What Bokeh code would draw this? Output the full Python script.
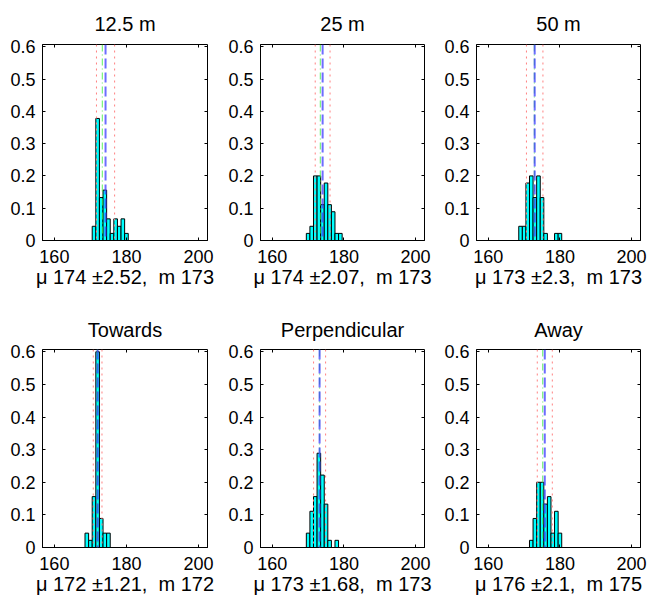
from bokeh.plotting import figure
from bokeh.models import Range1d, FixedTicker, LinearAxis, Span
from bokeh.layouts import gridplot
from bokeh.embed import file_html
from bokeh.resources import INLINE

FONT = "Liberation Sans"

titles = ["12.5 m", "25 m", "50 m", "Towards", "Perpendicular", "Away"]
xlabels = [
    "\u03bc 174 \u00b12.52,\u00a0 m 173",
    "\u03bc 174 \u00b12.07,\u00a0 m 173",
    "\u03bc 173 \u00b12.3,\u00a0 m 173",
    "\u03bc 172 \u00b11.21,\u00a0 m 172",
    "\u03bc 173 \u00b11.68,\u00a0 m 173",
    "\u03bc 176 \u00b12.1,\u00a0 m 175",
]

bins_125 = [171, 172, 173, 174, 175, 176, 177, 178, 179, 180]
prob_125 = [0.044, 0.378, 0.133, 0.156, 0.067, 0.022, 0.067, 0.044, 0.067, 0.022]
bins_25 = [170, 171, 172, 173, 174, 175, 176, 177, 178, 179]
prob_25 = [0.022, 0.044, 0.2, 0.2, 0.111, 0.178, 0.111, 0.089, 0.022, 0.022]
bins_50 = [169, 170, 171, 172, 173, 174, 175, 176, 179, 180]
prob_50 = [0.044, 0.044, 0.178, 0.2, 0.133, 0.2, 0.133, 0.022, 0.022, 0.022]
bins_tow = [169, 170, 171, 172, 173, 174, 175]
prob_tow = [0.044, 0.022, 0.156, 0.6, 0.089, 0.044, 0.044]
bins_perp = [170, 171, 172, 173, 174, 175, 176, 178]
prob_perp = [0.044, 0.111, 0.156, 0.289, 0.222, 0.133, 0.022, 0.022]
bins_away = [172, 173, 174, 175, 176, 177, 178, 179, 180]
prob_away = [0.022, 0.089, 0.2, 0.2, 0.133, 0.156, 0.044, 0.111, 0.044]

means = [174.2, 174.05, 172.95, 172.0, 173.2, 175.77]
stds = [2.52, 2.07, 2.3, 1.21, 1.68, 2.1]
medians = [173.3, 173.4, 172.85, 171.9, 173.2, 175.2]

x_ticks = [160, 180, 200]
y_ticks = [0, 0.1, 0.2, 0.3, 0.4, 0.5, 0.6]
y_tick_labels = ["0", "0.1", "0.2", "0.3", "0.4", "0.5", "0.6"]

all_bins = [bins_125, bins_25, bins_50, bins_tow, bins_perp, bins_away]
all_probs = [prob_125, prob_25, prob_50, prob_tow, prob_perp, prob_away]

col_geom = [(42, 165, 12), (41, 164, 11), (41, 164, 9)]
row_geom = [(43, 197, 58), (51, 198, 51)]
title_standoff = [20, 17]


def make(i):
    r, c = divmod(i, 3)
    lb, fw, rb = col_geom[c]
    tb, fh, bb = row_geom[r]
    p = figure(width=lb + fw + rb, height=tb + fh + bb,
               x_range=Range1d(156.7, 202.5), y_range=Range1d(0, 0.607),
               output_backend="svg", toolbar_location=None,
               min_border_left=lb, min_border_right=rb,
               min_border_top=tb, min_border_bottom=bb,
               title=titles[i])
    p.background_fill_color = "white"
    p.border_fill_color = "white"
    p.outline_line_color = "black"
    p.outline_line_width = 1
    p.xgrid.visible = False
    p.ygrid.visible = False

    p.title.text_font = FONT
    p.title.text_font_size = "20px"
    p.title.text_font_style = "normal"
    p.title.text_color = "black"
    p.title.align = "center"
    p.title.standoff = title_standoff[r]

    xa = p.xaxis[0]
    xa.ticker = FixedTicker(ticks=x_ticks)
    xa.major_tick_in = 3
    xa.major_tick_out = 0
    xa.minor_tick_line_color = None
    xa.axis_line_color = "black"
    xa.major_label_text_font = FONT
    xa.major_label_text_font_size = "18px"
    xa.major_label_text_color = "black"
    xa.major_label_standoff = 9
    xa.axis_label = xlabels[i]
    xa.axis_label_text_font = FONT
    xa.axis_label_text_font_size = "20px"
    xa.axis_label_text_font_style = "normal"
    xa.axis_label_text_color = "black"
    xa.axis_label_standoff = 0

    ya = p.yaxis[0]
    ya.ticker = FixedTicker(ticks=y_ticks)
    ya.major_label_overrides = {t: s for t, s in zip(y_ticks, y_tick_labels)}
    ya.major_tick_in = 3
    ya.major_tick_out = 0
    ya.minor_tick_line_color = None
    ya.axis_line_color = "black"
    ya.major_label_text_font = FONT
    ya.major_label_text_font_size = "18px"
    ya.major_label_text_color = "black"
    ya.major_label_standoff = 7

    ra = LinearAxis(ticker=FixedTicker(ticks=y_ticks), major_tick_in=3, major_tick_out=0,
                    minor_tick_line_color=None, axis_line_color=None,
                    major_label_text_font_size="0px", major_label_standoff=0,
                    major_label_overrides={t: "" for t in y_ticks})
    p.add_layout(ra, "right")
    ta = LinearAxis(ticker=FixedTicker(ticks=x_ticks), major_tick_in=3, major_tick_out=0,
                    minor_tick_line_color=None, axis_line_color=None,
                    major_label_text_font_size="0px", major_label_standoff=0,
                    major_label_overrides={t: "" for t in x_ticks})
    p.add_layout(ta, "above")

    p.vbar(x=all_bins[i], top=all_probs[i], bottom=0, width=1.0,
           fill_color="#00ffff", line_color="black", line_width=1)

    m, s, md = means[i], stds[i], medians[i]
    for loc in (m - s, m + s):
        p.add_layout(Span(location=loc, dimension="height", line_color="#ff8080",
                          line_dash="2 4", line_width=1))
    p.add_layout(Span(location=md, dimension="height", line_color="#44ee44",
                      line_dash="7 3 1 3", line_width=1, line_alpha=0.85))
    p.add_layout(Span(location=m, dimension="height", line_color="#3c3cff",
                      line_dash="10 4", line_width=2, line_alpha=0.75))
    return p


figs = [make(i) for i in range(6)]
grid = gridplot([figs[0:3], figs[3:6]], toolbar_location=None)

open("out.html", "w").write(file_html(grid, INLINE))
